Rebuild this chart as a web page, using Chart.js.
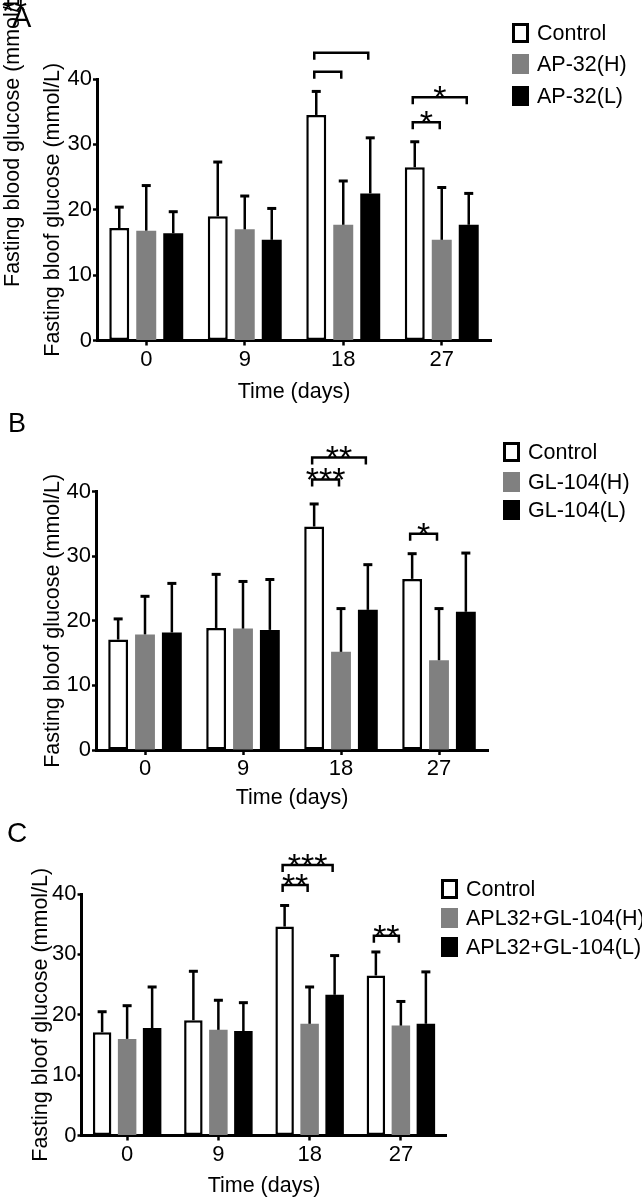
<!DOCTYPE html>
<html>
<head>
<meta charset="utf-8">
<script src="https://cdn.jsdelivr.net/npm/chart.js@4.4.1/dist/chart.umd.min.js"></script>
<style>
html, body { margin: 0; padding: 0; background: #fff; overflow: hidden; }
#page { position: relative; width: 642px; height: 1199px; font-family: "Liberation Sans", Arial, sans-serif; color: #000; }
#page canvas { position: absolute; left: 0; }
.tag { position: absolute; white-space: nowrap; }
.legend-item { position: absolute; display: flex; align-items: center; height: 24px; font-size: 21.5px; line-height: 24px; white-space: nowrap; }
.legend-box { box-sizing: border-box; width: 17px; height: 20px; margin-right: 8px; }
</style>
</head>
<body>
<div id="page">
  <canvas id="chartA" width="642" height="405" style="top:0px"></canvas>
  <canvas id="chartB" width="642" height="405" style="top:405px"></canvas>
  <canvas id="chartC" width="642" height="391" style="top:808px"></canvas>

  <!-- stray label left over in panel A of the original figure -->
  <div class="tag" style="left:0px;top:287px;font-size:21.5px;line-height:25.8px;transform:rotate(-90deg);transform-origin:0 0;">Fasting blood glucose (mmol/L)</div>
  <div class="tag" style="left:2px;top:-5px;font-size:32px;line-height:32px;">**</div>

  <div class="tag" style="left:12px;top:3px;font-size:29px;line-height:29px;">A</div>
  <div class="tag" style="left:8px;top:410px;font-size:27px;line-height:27px;">B</div>
  <div class="tag" style="left:7px;top:819px;font-size:28px;line-height:28px;">C</div>
</div>

<script>
// x categories and y ticks
var days = ['0', '9', '18', '27'];
var yTicks = [0, 10, 20, 30, 40];
var fills = ['#ffffff', '#808080', '#000000'];

// panel A
var namesA = ['Control', 'AP-32(H)', 'AP-32(L)'];
var controlA = [17.2, 19.0, 34.5, 26.5];
var controlA_sd = [3.2, 8.3, 3.6, 3.9];
var apH = [16.8, 17.0, 17.7, 15.4];
var apH_sd = [6.9, 5.1, 6.7, 8.0];
var apL = [16.4, 15.4, 22.5, 17.7];
var apL_sd = [3.3, 4.8, 8.5, 4.8];
var bracketsA = [
  {cat: 2, from: 0, to: 2, level: 44.0, label: ''},
  {cat: 2, from: 0, to: 1, level: 41.1, label: ''},
  {cat: 3, from: 0, to: 2, level: 37.2, label: '*'},
  {cat: 3, from: 0, to: 1, level: 33.4, label: '*'}
];

// panel B
var namesB = ['Control', 'GL-104(H)', 'GL-104(L)'];
var controlB = [17.1, 18.9, 34.6, 26.5];
var controlB_sd = [3.2, 8.3, 3.5, 3.9];
var glH = [17.9, 18.8, 15.2, 13.9];
var glH_sd = [5.9, 7.3, 6.7, 8.0];
var glL = [18.2, 18.6, 21.7, 21.4];
var glL_sd = [7.6, 7.8, 7.0, 9.1];
var bracketsB = [
  {cat: 2, from: 0, to: 2, level: 45.3, label: '**'},
  {cat: 2, from: 0, to: 1, level: 41.9, label: '***'},
  {cat: 3, from: 0, to: 1, level: 33.5, label: '*'}
];

// panel C
var namesC = ['Control', 'APL32+GL-104(H)', 'APL32+GL-104(L)'];
var controlC = [17.1, 19.1, 34.6, 26.5];
var controlC_sd = [3.4, 8.1, 3.5, 3.9];
var mixH = [16.0, 17.5, 18.5, 18.2];
var mixH_sd = [5.5, 4.9, 6.1, 4.0];
var mixL = [17.8, 17.3, 23.3, 18.5];
var mixL_sd = [6.8, 4.7, 6.5, 8.6];
var bracketsC = [
  {cat: 2, from: 0, to: 2, level: 44.8, label: '***'},
  {cat: 2, from: 0, to: 1, level: 41.5, label: '**'},
  {cat: 3, from: 0, to: 1, level: 33.1, label: '**'}
];

var FONT = '"Liberation Sans", Arial, sans-serif';
var TITLE_SIZE = 21.5;
var LH = TITLE_SIZE * 1.2;

// one-sided SD bars with a cap
var errorBars = {
  id: 'errorBars',
  afterDatasetsDraw: function (chart) {
    var ctx = chart.ctx, y = chart.scales.y;
    ctx.save();
    ctx.strokeStyle = '#000';
    chart.data.datasets.forEach(function (ds, i) {
      chart.getDatasetMeta(i).data.forEach(function (bar, j) {
        var top = y.getPixelForValue(ds.data[j] + ds.sd[j]);
        ctx.lineWidth = 2.5;
        ctx.beginPath();
        ctx.moveTo(bar.x, bar.y);
        ctx.lineTo(bar.x, top);
        ctx.stroke();
        ctx.lineWidth = 3;
        ctx.beginPath();
        ctx.moveTo(bar.x - 4.5, top);
        ctx.lineTo(bar.x + 4.5, top);
        ctx.stroke();
      });
    });
    ctx.restore();
  }
};

// significance brackets
var sigBrackets = {
  id: 'sigBrackets',
  afterDatasetsDraw: function (chart, args, opts) {
    var ctx = chart.ctx, y = chart.scales.y;
    var items = opts.items || [];
    ctx.save();
    ctx.strokeStyle = '#000';
    ctx.fillStyle = '#000';
    ctx.lineWidth = 2.5;
    for (var k = 0; k < items.length; k++) {
      var b = items[k];
      var x1 = chart.getDatasetMeta(b.from).data[b.cat].x - 2;
      var x2 = chart.getDatasetMeta(b.to).data[b.cat].x - 2;
      var py = y.getPixelForValue(b.level);
      ctx.beginPath();
      ctx.moveTo(x1, py + 7);
      ctx.lineTo(x1, py);
      ctx.lineTo(x2, py);
      ctx.lineTo(x2, py + 7);
      ctx.stroke();
      if (b.label) {
        ctx.font = '34px ' + FONT;
        ctx.textAlign = 'center';
        ctx.textBaseline = 'alphabetic';
        ctx.fillText(b.label, (x1 + x2) / 2, py + 12);
      }
    }
    ctx.restore();
  }
};

function buildPanel(canvasId, p) {
  var cv = document.getElementById(canvasId);
  var W = cv.width, H = cv.height;
  var bottomLocal = p.bottom - p.canvasTop;
  var xAxisH = p.xTitleY + LH / 2 - p.bottom;

  var chart = new Chart(cv, {
    type: 'bar',
    data: {
      labels: days,
      datasets: p.names.map(function (n, i) {
        return {
          label: n,
          data: p.means[i],
          sd: p.sds[i],
          backgroundColor: fills[i],
          borderColor: '#000',
          borderWidth: i === 0 ? 2.5 : 0,
          borderSkipped: false,
          categoryPercentage: 0.822,
          barPercentage: 0.74
        };
      })
    },
    options: {
      responsive: false,
      animation: false,
      events: [],
      layout: {
        padding: {left: 0, top: p.top - p.canvasTop, right: W - p.right, bottom: H - bottomLocal - xAxisH}
      },
      plugins: {
        legend: {display: false},
        tooltip: {enabled: false},
        sigBrackets: {items: p.brackets}
      },
      scales: {
        x: {
          grid: {display: true, offset: false, drawOnChartArea: false, drawTicks: true, tickLength: 5, tickColor: '#000', tickWidth: 2.5},
          border: {display: true, color: '#000', width: 3},
          ticks: {color: '#000', padding: 1, font: {family: FONT, size: 22}},
          title: {display: true, text: 'Time (days)', color: '#000', padding: 0, font: {family: FONT, size: TITLE_SIZE, lineHeight: 1.2}},
          afterFit: function (s) { s.height = xAxisH; }
        },
        y: {
          min: 0,
          max: 40,
          afterBuildTicks: function (s) { s.ticks = yTicks.map(function (v) { return {value: v}; }); },
          grid: {display: true, drawOnChartArea: false, drawTicks: true, tickLength: 4, tickColor: '#000', tickWidth: 2.5},
          border: {display: true, color: '#000', width: 3},
          ticks: {color: '#000', padding: 1, font: {family: FONT, size: 22}},
          title: {display: true, text: 'Fasting bloof glucose (mmol/L)', color: '#000', padding: {top: p.yTitleX - LH / 2, bottom: 0}, font: {family: FONT, size: TITLE_SIZE, lineHeight: 1.2}},
          afterFit: function (s) { s.width = p.left; }
        }
      }
    },
    plugins: [errorBars, sigBrackets]
  });

  // html legend built from the chart's datasets
  var page = document.getElementById('page');
  chart.data.datasets.forEach(function (ds, i) {
    var item = document.createElement('div');
    item.className = 'legend-item';
    item.style.left = p.legendLeft + 'px';
    item.style.top = (p.legendRows[i] - 12) + 'px';
    var box = document.createElement('span');
    box.className = 'legend-box';
    box.style.background = ds.backgroundColor;
    if (ds.borderWidth) box.style.border = '3px solid #000';
    var txt = document.createElement('span');
    txt.textContent = ds.label;
    item.appendChild(box);
    item.appendChild(txt);
    page.appendChild(item);
  });
  return chart;
}

buildPanel('chartA', {
  canvasTop: 0, left: 97, right: 491, top: 79, bottom: 340.5, yTitleX: 53, xTitleY: 392,
  names: namesA, means: [controlA, apH, apL], sds: [controlA_sd, apH_sd, apL_sd], brackets: bracketsA,
  legendLeft: 512, legendRows: [33, 64, 96]
});
buildPanel('chartB', {
  canvasTop: 405, left: 96, right: 488, top: 491.7, bottom: 750, yTitleX: 53, xTitleY: 798,
  names: namesB, means: [controlB, glH, glL], sds: [controlB_sd, glH_sd, glL_sd], brackets: bracketsB,
  legendLeft: 503, legendRows: [452, 482, 510]
});
buildPanel('chartC', {
  canvasTop: 808, left: 81.5, right: 446.5, top: 894, bottom: 1135.5, yTitleX: 41, xTitleY: 1186.5,
  names: namesC, means: [controlC, mixH, mixL], sds: [controlC_sd, mixH_sd, mixL_sd], brackets: bracketsC,
  legendLeft: 441, legendRows: [889, 918, 947]
});
</script>
</body>
</html>
